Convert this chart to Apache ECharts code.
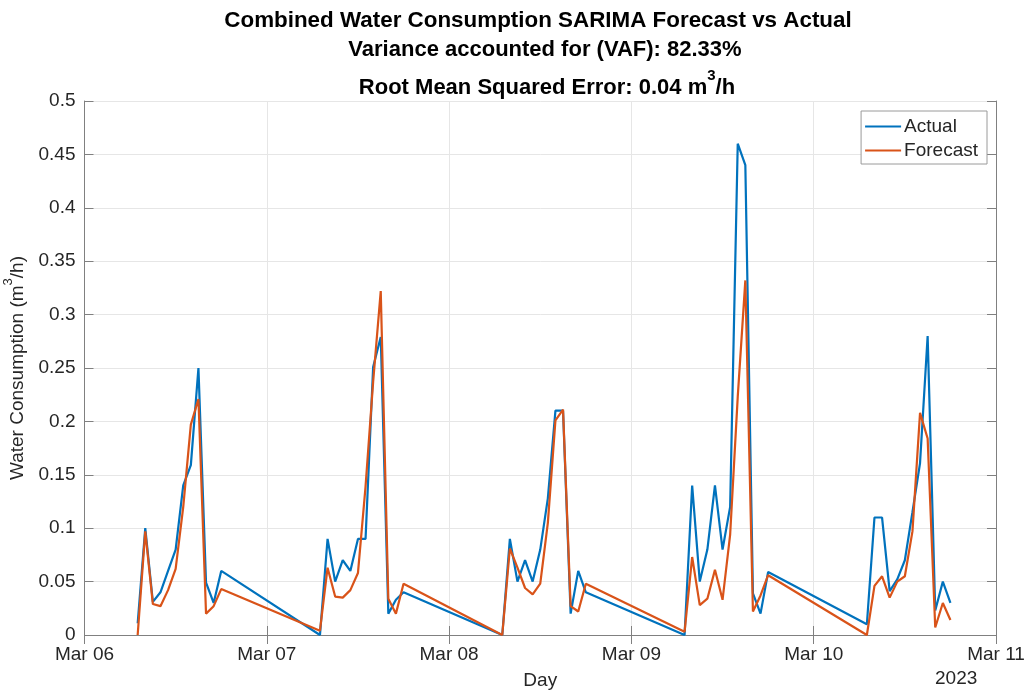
<!DOCTYPE html>
<html>
<head>
<meta charset="utf-8">
<script src="https://cdn.jsdelivr.net/npm/echarts@6/dist/echarts.min.js"></script>
<style>
html,body{margin:0;padding:0;background:#fff;}
#chart{width:1030px;height:692px;}
</style>
</head>
<body>
<div id="chart"></div>
<script>
// Days and hourly sample times
const days = ['2023-03-06', '2023-03-07', '2023-03-08', '2023-03-09', '2023-03-10'];
const hours = ['07:00', '08:00', '09:00', '10:00', '11:00', '12:00', '13:00', '14:00', '15:00', '16:00', '17:00', '18:00'];

// Actual water consumption (m3/h), one row per day
const actualDay1 = [0.011, 0.100, 0.031, 0.040, 0.060, 0.080, 0.140, 0.159, 0.250, 0.049, 0.030, 0.060];
const actualDay2 = [0.000, 0.090, 0.050, 0.070, 0.060, 0.090, 0.090, 0.251, 0.279, 0.020, 0.033, 0.040];
const actualDay3 = [0.000, 0.090, 0.050, 0.070, 0.050, 0.080, 0.128, 0.210, 0.210, 0.020, 0.060, 0.040];
const actualDay4 = [0.000, 0.140, 0.050, 0.080, 0.140, 0.080, 0.120, 0.460, 0.440, 0.039, 0.020, 0.059];
const actualDay5 = [0.010, 0.110, 0.110, 0.041, 0.052, 0.070, 0.115, 0.161, 0.280, 0.023, 0.050, 0.030];

// SARIMA forecast (m3/h)
const forecastDay1 = [0.000, 0.097, 0.029, 0.027, 0.042, 0.062, 0.120, 0.197, 0.221, 0.020, 0.027, 0.043];
const forecastDay2 = [0.004, 0.063, 0.036, 0.035, 0.042, 0.058, 0.139, 0.237, 0.322, 0.034, 0.020, 0.048];
const forecastDay3 = [0.000, 0.081, 0.063, 0.044, 0.038, 0.048, 0.105, 0.201, 0.211, 0.027, 0.022, 0.048];
const forecastDay4 = [0.003, 0.073, 0.028, 0.034, 0.061, 0.033, 0.094, 0.223, 0.332, 0.022, 0.037, 0.056];
const forecastDay5 = [0.000, 0.046, 0.055, 0.035, 0.050, 0.055, 0.097, 0.208, 0.184, 0.007, 0.030, 0.014];

const xTickLabels = ['Mar 06', 'Mar 07', 'Mar 08', 'Mar 09', 'Mar 10', 'Mar 11'];
const yTicks = [0, 0.05, 0.1, 0.15, 0.2, 0.25, 0.3, 0.35, 0.4, 0.45, 0.5];

const actualRows = [actualDay1, actualDay2, actualDay3, actualDay4, actualDay5];
const forecastRows = [forecastDay1, forecastDay2, forecastDay3, forecastDay4, forecastDay5];

function toTime(d, h) {
  const [y, m, dd] = d.split('-').map(Number);
  const [hh, mm] = h.split(':').map(Number);
  return new Date(y, m - 1, dd, hh, mm).getTime();
}
function build(rows) {
  const out = [];
  days.forEach((d, i) => hours.forEach((h, j) => out.push([toTime(d, h), rows[i][j]])));
  return out;
}
const xMin = new Date(2023, 2, 6).getTime();
const xMax = new Date(2023, 2, 11).getTime();
const DAY = 86400000;

const font = 'Liberation Sans, Arial, Helvetica, sans-serif';
const txt = '#262626';

const chart = echarts.init(document.getElementById('chart'), null, {renderer: 'canvas'});
const common = {
  type: 'time', min: xMin, max: xMax, minInterval: DAY, maxInterval: DAY
};
chart.setOption({
  backgroundColor: '#ffffff',
  animation: false,
  title: [
    {text: 'Combined Water Consumption SARIMA Forecast vs Actual', left: 533, top: 5, textAlign: 'center',
     textStyle: {fontFamily: font, fontSize: 22.4, fontWeight: 'bold', color: '#000'}},
    {text: 'Variance accounted for (VAF): 82.33%', left: 540, top: 34, textAlign: 'center',
     textStyle: {fontFamily: font, fontSize: 22, fontWeight: 'bold', color: '#000'}},
    {text: '{a|Root Mean Squared Error: 0.04 m}{s|3}{a|/h}', left: 542, top: 60, textAlign: 'center',
     textStyle: {rich: {
       a: {fontFamily: font, fontSize: 22, fontWeight: 'bold', color: '#000', lineHeight: 34, verticalAlign: 'bottom'},
       s: {fontFamily: font, fontSize: 15, fontWeight: 'bold', color: '#000', lineHeight: 34, verticalAlign: 'top', padding: [3, 0, 0, 0]}
     }}}
  ],
  legend: {
    orient: 'vertical', right: 43, top: 111, itemGap: 5, padding: [6, 9, 4, 4],
    backgroundColor: '#fff', borderColor: '#9a9a9a', borderWidth: 1, borderRadius: 0,
    itemWidth: 36, itemHeight: 2, icon: 'rect',
    textStyle: {fontFamily: font, fontSize: 19, color: txt, padding: [0, 0, 0, -2]},
    data: ['Actual', 'Forecast']
  },
  grid: {left: 84.5, right: 34, top: 101, bottom: 57, containLabel: false, outerBoundsMode: 'none'},
  xAxis: [
    Object.assign({}, common, {
      position: 'bottom',
      name: 'Day', nameLocation: 'middle', nameGap: 36,
      nameTextStyle: {fontFamily: font, fontSize: 19, color: txt},
      axisLine: {show: true, lineStyle: {color: '#808080', width: 1}},
      axisTick: {show: true, inside: true, length: 9, lineStyle: {color: '#808080'}},
      axisLabel: {show: true, margin: 10, fontFamily: font, fontSize: 19, color: txt,
        showMinLabel: true, showMaxLabel: true, alignMinLabel: 'center', alignMaxLabel: 'center',
        formatter: function (v) { return xTickLabels[Math.round((v - xMin) / DAY)] || ''; }},
      splitLine: {show: true, lineStyle: {color: '#e6e6e6', width: 1}},
      minorTick: {show: false}
    }),
    Object.assign({}, common, {
      position: 'top',
      axisLine: {show: true, lineStyle: {color: '#808080', width: 1}},
      axisTick: {show: true, inside: true, length: 9, lineStyle: {color: '#808080'}},
      axisLabel: {show: false},
      splitLine: {show: false}
    })
  ],
  yAxis: [
    {
      type: 'value', min: 0, max: 0.5, interval: 0.05, position: 'left',
      name: '{a|Water Consumption (m}{s|3}{a|/h)}', nameLocation: 'middle', nameGap: 51,
      nameTextStyle: {rich: {
        a: {fontFamily: font, fontSize: 19, color: txt, lineHeight: 26, verticalAlign: 'bottom'},
        s: {fontFamily: font, fontSize: 13, color: txt, lineHeight: 26, verticalAlign: 'top'}
      }},
      axisLine: {show: true, lineStyle: {color: '#808080', width: 1}},
      axisTick: {show: true, inside: true, length: 9, lineStyle: {color: '#808080'}},
      axisLabel: {margin: 9, fontFamily: font, fontSize: 19, color: txt,
        formatter: function (v) { return String(Math.round(v * 100) / 100); }},
      splitLine: {show: true, lineStyle: {color: '#e6e6e6', width: 1}}
    },
    {
      type: 'value', min: 0, max: 0.5, interval: 0.05, position: 'right',
      axisLine: {show: true, lineStyle: {color: '#808080', width: 1}},
      axisTick: {show: true, inside: true, length: 9, lineStyle: {color: '#808080'}},
      axisLabel: {show: false},
      splitLine: {show: false}
    }
  ],
  series: [
    {name: 'Actual', type: 'line', data: build(actualRows), xAxisIndex: 0, yAxisIndex: 0,
     showSymbol: false, symbol: 'none', lineStyle: {color: '#0072BD', width: 2.2}, itemStyle: {color: '#0072BD'}},
    {name: 'Forecast', type: 'line', data: build(forecastRows), xAxisIndex: 0, yAxisIndex: 0,
     showSymbol: false, symbol: 'none', lineStyle: {color: '#D95319', width: 2.2}, itemStyle: {color: '#D95319'}}
  ],
  graphic: [
    {type: 'text', left: 935, top: 669, style: {text: '2023', fontFamily: font, fontSize: 19, fill: txt}}
  ]
});
</script>
</body>
</html>
